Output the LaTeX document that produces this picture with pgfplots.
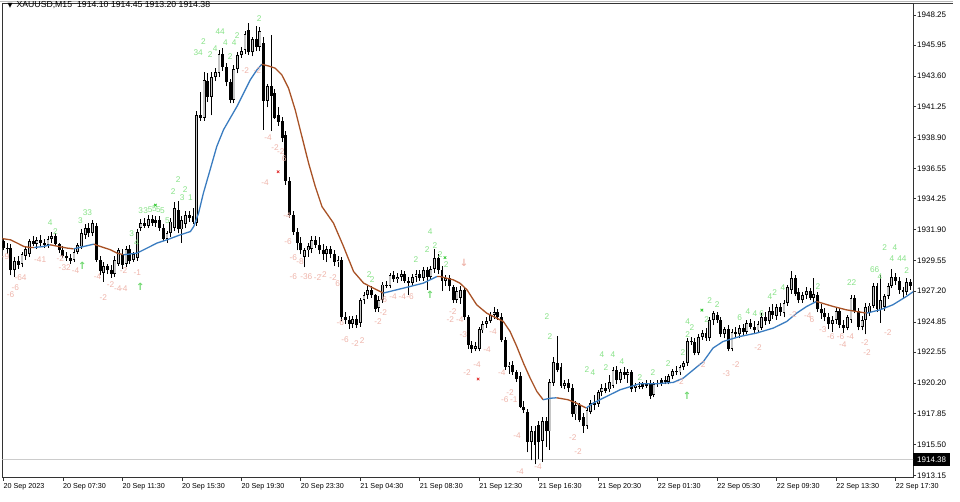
\documentclass[border=0pt]{standalone}
\usepackage{fontspec}
\setmainfont{Liberation Sans}
\newfontfamily\dejavu{DejaVu Sans}
\usepackage{pgfplots}
\usepackage{pgfplotstable}
\pgfplotsset{compat=1.18}
\definecolor{mabrown}{RGB}{168,82,38}
\definecolor{mablue}{RGB}{58,124,192}
\definecolor{lblgreen}{RGB}{135,226,135}
\definecolor{lblpink}{RGB}{238,180,170}
\definecolor{arrgreen}{RGB}{110,215,110}
\definecolor{xred}{RGB}{225,45,45}
\definecolor{xgreen}{RGB}{50,200,50}

\pgfplotstableread{
i o h l c
0 1931.0 1931.2 1930.3 1930.5
1 1930.5 1930.9 1930.0 1930.4
2 1930.5 1930.8 1928.4 1928.8
3 1928.8 1929.8 1928.3 1929.5
4 1929.5 1929.9 1928.9 1929.2
5 1929.3 1930.2 1929.0 1930.0
6 1929.9 1930.6 1929.6 1930.4
7 1930.0 1931.2 1929.8 1931.0
8 1931.0 1931.4 1930.6 1930.8
9 1930.8 1931.3 1930.4 1931.1
10 1931.1 1931.5 1930.6 1930.9
11 1930.9 1931.2 1930.5 1930.7
12 1930.7 1931.4 1930.5 1931.2
13 1931.2 1931.7 1930.9 1931.4
14 1931.4 1931.6 1930.6 1930.8
15 1930.8 1930.9 1930.1 1930.3
16 1930.3 1930.6 1929.7 1929.9
17 1929.9 1930.2 1929.5 1929.7
18 1929.7 1930.0 1929.3 1929.5
19 1929.6 1930.4 1929.4 1930.2
20 1930.2 1930.9 1930.0 1930.7
21 1930.6 1931.9 1930.4 1931.6
22 1931.5 1932.3 1931.2 1932.0
23 1932.0 1932.4 1931.3 1931.6
24 1931.6 1932.6 1931.4 1932.4
25 1932.2 1932.4 1929.4 1929.6
26 1929.6 1929.9 1928.4 1928.7
27 1928.6 1929.4 1927.9 1929.1
28 1929.1 1929.3 1928.5 1928.8
29 1928.8 1929.2 1928.2 1928.5
30 1928.5 1929.9 1928.3 1929.6
31 1929.3 1930.5 1929.1 1930.3
32 1930.0 1930.4 1928.9 1929.2
33 1929.3 1930.6 1929.0 1930.4
34 1930.4 1930.7 1929.3 1929.5
35 1929.6 1930.2 1929.4 1930.0
36 1929.7 1931.9 1929.5 1931.7
37 1932.0 1932.7 1931.8 1932.4
38 1932.4 1932.8 1932.0 1932.2
39 1932.2 1933.0 1932.0 1932.7
40 1932.7 1933.0 1932.2 1932.4
41 1932.4 1932.9 1932.1 1932.6
42 1932.6 1932.9 1931.8 1932.0
43 1932.0 1932.3 1931.0 1931.2
44 1931.2 1931.8 1930.9 1931.6
45 1931.6 1932.8 1931.3 1932.5
46 1932.0 1934.0 1931.8 1933.5
47 1933.4 1934.1 1931.6 1931.9
48 1931.9 1932.9 1930.9 1932.6
49 1932.3 1933.3 1932.0 1933.0
50 1933.0 1933.3 1932.5 1932.8
51 1932.9 1933.5 1932.3 1932.5
52 1932.4 1940.9 1932.2 1940.6
53 1940.6 1942.4 1940.2 1940.4
54 1940.4 1943.9 1940.2 1943.3
55 1943.2 1943.8 1941.6 1942.0
56 1942.0 1943.9 1940.6 1943.5
57 1943.5 1944.2 1943.2 1943.9
58 1943.8 1945.6 1943.5 1945.3
59 1945.3 1945.7 1944.0 1944.3
60 1944.3 1944.6 1942.8 1943.1
61 1943.1 1943.4 1941.5 1941.8
62 1941.8 1944.4 1941.5 1944.1
63 1944.1 1945.4 1943.8 1945.2
64 1945.2 1945.8 1945.0 1945.5
65 1945.6 1947.0 1945.3 1946.8
66 1947.1 1947.6 1945.2 1945.4
67 1945.4 1946.6 1945.1 1946.4
68 1946.4 1947.4 1945.5 1945.8
69 1945.8 1947.3 1945.5 1947.0
70 1946.1 1946.6 1939.5 1941.7
71 1941.7 1943.0 1941.2 1942.8
72 1942.8 1946.7 1939.4 1942.1
73 1942.3 1942.6 1940.3 1940.4
74 1940.6 1941.2 1939.8 1940.1
75 1940.2 1940.5 1938.6 1938.9
76 1939.1 1939.4 1935.3 1935.6
77 1935.6 1935.9 1932.8 1933.0
78 1933.0 1933.3 1931.5 1931.7
79 1931.7 1932.0 1930.3 1930.9
80 1930.9 1931.3 1930.0 1930.3
81 1929.8 1930.5 1929.0 1930.3
82 1930.3 1930.9 1929.8 1930.6
83 1930.4 1931.4 1930.1 1931.1
84 1931.1 1931.4 1930.5 1930.7
85 1930.7 1931.3 1930.0 1930.3
86 1930.3 1930.8 1929.6 1930.0
87 1930.0 1930.6 1929.4 1930.4
88 1930.4 1930.6 1929.7 1930.0
89 1930.0 1930.3 1929.1 1929.4
90 1929.4 1929.9 1929.0 1929.6
91 1929.6 1929.8 1924.9 1925.2
92 1925.2 1925.6 1924.7 1925.0
93 1925.0 1925.3 1924.3 1924.7
94 1924.7 1925.3 1924.4 1925.1
95 1925.1 1925.4 1924.4 1924.6
96 1924.8 1926.7 1924.5 1926.5
97 1926.5 1927.1 1926.2 1926.9
98 1926.9 1927.6 1926.6 1927.3
99 1927.3 1927.6 1926.7 1926.9
100 1926.9 1927.0 1925.6 1925.8
101 1925.9 1926.8 1925.6 1926.5
102 1926.5 1927.9 1926.3 1927.7
103 1927.7 1928.0 1927.4 1927.6
104 1927.6 1928.6 1927.4 1928.4
105 1928.4 1928.7 1927.9 1928.1
106 1928.1 1928.6 1927.8 1928.3
107 1928.3 1928.8 1928.0 1928.5
108 1928.5 1928.7 1927.8 1928.0
109 1928.0 1928.3 1926.9 1927.8
110 1927.8 1928.5 1927.6 1928.3
111 1928.3 1928.8 1927.9 1928.5
112 1928.5 1928.8 1928.0 1928.2
113 1928.2 1929.0 1928.0 1928.8
114 1928.8 1929.0 1927.3 1928.3
115 1928.3 1929.1 1928.1 1928.9
116 1928.9 1930.4 1928.6 1929.7
117 1929.7 1930.0 1928.5 1928.8
118 1928.8 1929.1 1927.2 1928.0
119 1928.0 1928.4 1927.6 1928.2
120 1928.2 1928.4 1927.2 1927.6
121 1927.5 1927.7 1926.3 1926.5
122 1926.5 1927.5 1926.3 1927.2
123 1926.7 1927.6 1926.2 1927.3
124 1927.3 1927.5 1925.0 1925.2
125 1925.2 1925.4 1922.8 1923.1
126 1923.1 1923.4 1922.5 1922.8
127 1922.8 1923.3 1922.6 1923.0
128 1922.8 1924.5 1922.6 1924.3
129 1924.2 1924.9 1924.0 1924.7
130 1924.7 1925.2 1924.4 1924.9
131 1924.9 1925.6 1924.8 1925.4
132 1925.4 1926.0 1925.1 1925.6
133 1925.6 1925.8 1925.0 1925.2
134 1925.2 1925.5 1923.3 1923.5
135 1923.5 1923.7 1921.2 1921.4
136 1921.4 1921.8 1920.9 1921.6
137 1921.6 1921.9 1920.8 1921.0
138 1921.0 1921.2 1920.3 1920.5
139 1920.7 1921.0 1918.3 1918.4
140 1918.4 1918.8 1917.9 1918.1
141 1918.0 1918.2 1914.9 1915.7
142 1915.7 1916.9 1914.3 1916.5
143 1916.5 1916.9 1914.0 1915.5
144 1917.0 1917.3 1914.4 1915.7
145 1915.8 1917.6 1914.2 1917.3
146 1917.3 1917.6 1915.3 1916.5
147 1916.5 1920.5 1915.1 1920.3
148 1920.2 1922.2 1920.0 1921.8
149 1921.7 1923.8 1921.0 1921.2
150 1921.4 1921.7 1919.8 1920.0
151 1920.0 1920.4 1919.7 1920.2
152 1920.2 1920.5 1919.5 1919.8
153 1919.8 1920.1 1917.6 1917.8
154 1917.8 1918.8 1917.4 1918.5
155 1918.5 1918.7 1917.2 1917.4
156 1917.6 1917.9 1916.4 1916.9
157 1916.9 1918.4 1916.7 1918.1
158 1918.0 1918.9 1917.8 1918.7
159 1918.7 1919.3 1918.1 1918.5
160 1918.6 1919.7 1918.4 1919.5
161 1919.5 1920.1 1919.2 1919.8
162 1919.8 1920.2 1919.4 1919.6
163 1919.7 1920.8 1919.5 1920.3
164 1920.0 1921.4 1919.8 1921.2
165 1921.2 1921.5 1920.1 1920.4
166 1920.4 1921.3 1920.2 1921.0
167 1921.0 1921.4 1920.5 1920.8
168 1920.8 1921.3 1920.2 1921.0
169 1921.0 1921.2 1919.5 1919.7
170 1919.8 1920.2 1919.5 1920.0
171 1920.0 1920.3 1919.7 1919.9
172 1919.9 1920.3 1919.7 1920.1
173 1920.1 1920.4 1919.8 1920.0
174 1920.2 1920.4 1919.0 1919.2
175 1919.3 1920.3 1919.1 1920.1
176 1920.1 1920.4 1919.9 1920.2
177 1920.2 1920.6 1920.0 1920.4
178 1920.4 1920.7 1920.1 1920.3
179 1920.3 1920.9 1920.1 1920.7
180 1920.7 1921.3 1920.5 1921.1
181 1921.1 1921.5 1920.8 1921.0
182 1921.0 1921.6 1920.8 1921.4
183 1921.4 1921.9 1921.2 1921.7
184 1921.7 1923.6 1921.5 1923.4
185 1923.4 1923.7 1923.1 1923.3
186 1923.3 1923.6 1922.3 1922.5
187 1922.5 1923.9 1922.3 1923.7
188 1923.7 1924.2 1923.5 1924.0
189 1924.0 1924.4 1923.4 1923.6
190 1923.6 1925.2 1923.4 1925.0
191 1925.0 1925.7 1924.6 1925.5
192 1925.4 1925.6 1924.8 1925.0
193 1925.0 1925.2 1923.7 1923.9
194 1923.9 1924.5 1923.6 1924.3
195 1924.3 1924.6 1922.6 1922.8
196 1922.8 1924.3 1922.6 1924.1
197 1924.1 1924.5 1923.6 1923.9
198 1923.9 1924.6 1923.6 1924.4
199 1924.4 1924.7 1923.8 1924.1
200 1924.1 1925.0 1923.9 1924.8
201 1924.8 1925.1 1924.3 1924.5
202 1924.5 1924.9 1923.9 1924.2
203 1924.2 1924.9 1924.0 1924.7
204 1924.4 1925.5 1924.2 1925.2
205 1925.2 1925.6 1924.6 1924.9
206 1924.9 1926.0 1924.7 1925.7
207 1925.7 1926.2 1925.1 1925.4
208 1925.3 1926.2 1925.0 1926.0
209 1926.0 1926.3 1925.3 1925.6
210 1925.5 1926.5 1925.2 1926.3
211 1926.3 1927.7 1926.1 1927.5
212 1927.3 1928.7 1927.0 1928.2
213 1928.2 1928.4 1926.8 1927.0
214 1927.1 1927.4 1926.3 1926.5
215 1926.5 1927.1 1926.3 1926.9
216 1926.9 1927.5 1926.6 1927.2
217 1927.2 1927.4 1926.5 1926.7
218 1926.7 1928.2 1926.4 1927.0
219 1926.9 1927.1 1925.6 1925.8
220 1925.8 1926.2 1925.1 1925.5
221 1925.5 1925.9 1924.9 1925.2
222 1925.2 1925.5 1924.3 1924.7
223 1924.7 1925.3 1924.1 1925.0
224 1925.0 1926.0 1924.7 1925.7
225 1925.7 1925.9 1924.4 1924.6
226 1924.6 1925.0 1924.0 1924.4
227 1924.4 1925.4 1924.2 1925.2
228 1925.0 1926.9 1924.8 1926.7
229 1926.7 1926.9 1925.5 1925.7
230 1925.7 1925.9 1924.2 1924.5
231 1924.5 1925.3 1924.2 1925.0
232 1925.0 1926.3 1923.9 1926.0
233 1925.5 1926.3 1925.3 1926.1
234 1926.1 1927.8 1925.9 1927.6
235 1927.6 1927.8 1925.6 1925.8
236 1925.8 1928.4 1924.8 1926.5
237 1926.0 1927.0 1925.7 1926.8
238 1926.8 1927.8 1926.6 1927.6
239 1927.6 1928.9 1927.4 1928.3
240 1928.3 1928.6 1927.7 1928.0
241 1928.0 1928.3 1927.0 1927.3
242 1927.3 1927.5 1926.6 1927.1
243 1927.1 1928.2 1926.9 1927.9
244 1927.9 1928.1 1927.3 1927.6
}\candles

\pgfplotstableread{
x y t
68.8 1948.0 2
58.3 1946.95 44
62.9 1946.7 2
53.8 1946.2 2
59.7 1946.1 4
62.1 1946.1 4
52.4 1945.4 34
55.6 1945.2 2
57.0 1945.7 4
61.0 1945.05 2
47.0 1935.7 2
45.7 1934.8 2
48.9 1934.9 2
48.1 1934.3 3
50.3 1934.3 1
36.9 1933.3 3
38.3 1933.35 3
39.5 1933.4 5
40.6 1933.5 5
41.7 1933.4 5
42.8 1933.3 5
44.1 1932.6 5
34.5 1931.6 3
35.8 1930.9 4
20.7 1932.6 3
22.6 1933.2 33
12.6 1932.4 4
14.0 1931.7 2
114.8 1931.7 4
116.1 1930.7 2
114.0 1930.35 2
111.0 1929.6 2
98.4 1928.45 2
99.2 1928.05 2
117.5 1930.0 2
119.1 1929.2 2
146.2 1925.25 2
147.0 1923.7 2
161.0 1922.35 4
164.0 1922.35 4
166.4 1921.8 4
162.1 1921.4 2
157.0 1921.2 2
158.6 1920.95 4
171.2 1920.6 2
174.7 1920.95 2
178.8 1921.7 2
182.8 1922.5 2
184.1 1923.9 2
184.1 1924.85 4
185.2 1924.4 2
189.2 1925.0 2
190.0 1926.5 2
192.0 1926.15 2
198.1 1925.15 6
200.3 1925.6 4
202.2 1925.5 4
204.0 1925.45 6
206.2 1926.75 4
207.5 1927.05 2
209.7 1927.45 4
219.1 1927.55 2
228.2 1927.85 22
234.4 1928.8 66
235.8 1928.3 4
237.1 1930.55 2
239.8 1930.55 4
239.0 1929.65 4
241.7 1929.7 44
243.0 1928.8 2
}\greenlbl

\pgfplotstableread{
x y t
65.1 1944.0 -2
68.3 1944.0 -2
71.2 1938.9 -4
73.1 1938.1 -2
74.6 1937.8 -2
75.5 1937.3 6
70.4 1935.45 -4
76.3 1932.95 -4
76.6 1930.95 -6
78.0 1929.75 -6
79.8 1929.45 -8
78.0 1928.3 -6
81.5 1928.3 -36
84.5 1928.25 -2
86.0 1928.45 -2
88.7 1928.2 -2
89.9 1927.8 6
90.6 1924.8 -6
91.9 1923.5 -6
94.6 1923.2 -2
96.5 1923.4 2
102.2 1926.55 -6
104.8 1926.8 -4
107.3 1926.75 -4
109.4 1926.8 -6
102.2 1925.55 -2
100.8 1924.85 -2
120.9 1925.6 -2
120.2 1925.0 -2
122.8 1925.0 -4
123.7 1923.85 -3
131.7 1924.1 -4
130.1 1922.75 -4
127.4 1921.6 -4
124.7 1920.95 -2
134.1 1920.95 -4
136.3 1919.5 -2
134.9 1918.9 -6
137.3 1918.9 -1
138.2 1916.2 -4
139.0 1913.45 -4
143.8 1913.85 -4
153.2 1916.0 -2
154.6 1914.95 -2
182.0 1920.3 -2
187.9 1921.6 -2
197.0 1921.6 -2
194.5 1920.9 -3
203.0 1922.9 -2
212.4 1925.4 -2
216.4 1925.3 -4
217.5 1925.0 6
220.4 1924.25 -3
222.6 1923.75 -6
225.2 1923.75 -6
227.8 1923.75 -4
225.8 1923.1 -4
231.7 1923.25 -2
232.3 1922.55 -2
237.9 1924.0 -2
0.6 1929.8 -9
4.6 1928.2 -64
3.2 1927.5 -6
1.9 1926.9 -6
9.9 1929.6 -41
15.3 1929.65 -2
16.5 1929.0 -32
19.4 1928.75 -4
25.3 1928.3 -4
28.8 1927.7 -2
30.8 1927.4 -4
32.4 1927.4 -4
26.9 1926.7 -2
32.3 1928.8 -2
36.0 1928.6 -1
}\pinklbl

\begin{document}
\begin{tikzpicture}[x=1pt,y=1pt]
\path (0,0) rectangle (960,502);
\draw[gray!55, line width=0.8pt] (0,500.8) -- (953,500.8);
\draw[black!75, line width=0.9pt] (913,498.6) -- (953,498.6);
\begin{axis}[
  at={(2pt,24pt)}, anchor=south west, scale only axis,
  width=911pt, height=475pt,
  xmin=-0.27, xmax=244.7, ymin=1912.97, ymax=1949.16,
  axis line style={black!80, line width=0.9pt},
  tick align=outside, major tick length=3pt,
  tick style={black!80, line width=0.6pt},
  xtick={0,16,...,240},
  xticklabels={20 Sep 2023,20 Sep 07:30,20 Sep 11:30,20 Sep 15:30,20 Sep 19:30,20 Sep 23:30,21 Sep 04:30,21 Sep 08:30,21 Sep 12:30,21 Sep 16:30,21 Sep 20:30,22 Sep 01:30,22 Sep 05:30,22 Sep 09:30,22 Sep 13:30,22 Sep 17:30},
  xtick pos=bottom, ytick pos=right, yticklabel pos=right,
  xticklabel style={anchor=north west, inner sep=0pt, yshift=-2pt, font=\fontsize{7.2}{8}\selectfont},
  ytick={1913.15,1915.50,1917.85,1920.20,1922.55,1924.85,1927.20,1929.55,1931.90,1934.25,1936.55,1938.90,1941.25,1943.60,1945.95,1948.25},
  yticklabels={1913.15,1915.50,1917.85,1920.20,1922.55,1924.85,1927.20,1929.55,1931.90,1934.25,1936.55,1938.90,1941.25,1943.60,1945.95,1948.25},
  yticklabel style={anchor=west, inner sep=0pt, xshift=1pt, font=\fontsize{8}{9}\selectfont},
  extra y ticks={1914.38}, extra y tick labels={1914.38},
  extra y tick style={major tick length=0pt, yticklabel style={fill=black, text=white, inner xsep=4pt, inner ysep=3.5pt, text height=6pt, text depth=0pt, xshift=-1pt}},
  title={{\dejavu\fontsize{6.5}{6.5}\selectfont ▼}\hspace{4pt}XAUUSD,M15\hspace{5pt}1914.10 1914.45 1913.20 1914.38},
  title style={at={(0,1)}, anchor=north west, xshift=5pt, yshift=-4.5pt, inner sep=0pt, font=\fontsize{8.7}{9}\selectfont},
]
\addplot[gray!40, line width=0.7pt, forget plot] coordinates {(-1,1914.38) (246,1914.38)};

\addplot[draw=none, mark=none, nodes near coords, point meta=explicit symbolic,
  nodes near coords style={anchor=center, inner sep=0pt, text=lblpink, font=\fontsize{8.3}{8}\selectfont}]
  table[x=x, y=y, meta=t] {\pinklbl};
\addplot[draw=none, mark=none, nodes near coords, point meta=explicit symbolic,
  nodes near coords style={anchor=center, inner sep=0pt, text=lblgreen, font=\fontsize{8.3}{8}\selectfont}]
  table[x=x, y=y, meta=t] {\greenlbl};

% wicks
\addplot[draw=none, mark=none, error bars/.cd, y dir=plus, y explicit, error mark=none,
  error bar style={draw=black, line width=0.9pt}]
  table[x=i, y=l, y error plus expr={\thisrow{h}-\thisrow{l}}] {\candles};
% bodies
\addplot[draw=none, mark=none, error bars/.cd, y dir=plus, y explicit, error mark=none,
  error bar style={draw=black, line width=2.9pt}]
  table[x=i, y expr={min(\thisrow{o},\thisrow{c})}, y error plus expr={max(abs(\thisrow{c}-\thisrow{o}),0.08)}] {\candles};
% hollow part of bull bodies
\addplot[draw=none, mark=none, restrict expr to domain={\thisrow{c}-\thisrow{o}}{0.2:100},
  error bars/.cd, y dir=plus, y explicit, error mark=none,
  error bar style={draw=gray!45, line width=1.3pt}]
  table[x=i, y expr={\thisrow{o}+0.07}, y error plus expr={\thisrow{c}-\thisrow{o}-0.14}] {\candles};

% moving average
\addplot[mabrown, line width=1.3pt] coordinates {(-0.3,1931.2) (1.9,1931.11) (3.7,1930.86) (5.5,1930.60) (7.3,1930.52) (8.2,1930.52)};
\addplot[mablue, line width=1.3pt] coordinates {(8.2,1930.52) (10.8,1930.60) (12.6,1930.73)};
\addplot[mabrown, line width=1.3pt] coordinates {(12.6,1930.73) (14.9,1930.60) (17.1,1930.48) (18.9,1930.42)};
\addplot[mablue, line width=1.3pt] coordinates {(18.9,1930.42) (21.6,1930.60) (24.3,1930.78)};
\addplot[mabrown, line width=1.3pt] coordinates {(24.3,1930.78) (26.1,1930.60) (28.8,1930.35) (30.6,1930.09) (32.3,1929.97)};
\addplot[mablue, line width=1.3pt] coordinates {(32.3,1929.97) (35.9,1930.09) (38.6,1930.47) (41.3,1930.86) (44.0,1931.11) (47.6,1931.49) (50.3,1931.74) (51.2,1932.12) (52.5,1933.14) (53.8,1934.67) (55.6,1936.44) (57.4,1938.22) (59.2,1939.49) (61.0,1940.38) (62.8,1941.26) (64.6,1942.28) (66.4,1943.30) (68.2,1944.06) (69.5,1944.49)};
\addplot[mabrown, line width=1.3pt] coordinates {(69.5,1944.49) (71.3,1944.36) (73.1,1944.19) (74.9,1943.68) (76.7,1942.67) (78.5,1941.01) (80.3,1938.98) (82.1,1936.95) (83.9,1935.17) (85.7,1933.64) (88.8,1932.38) (91.5,1930.60) (94.2,1928.69) (96.9,1927.81) (99.5,1927.43) (102.2,1927.05)};
\addplot[mablue, line width=1.3pt] coordinates {(102.2,1927.05) (105.8,1927.30) (109.4,1927.55) (113.0,1927.81) (116.6,1928.31)};
\addplot[mabrown, line width=1.3pt] coordinates {(116.6,1928.31) (117.5,1928.31) (121.0,1928.06) (122.8,1927.81) (124.7,1927.30) (127.3,1926.16) (130.0,1925.52) (132.7,1925.14) (134.5,1924.88) (136.3,1924.12) (138.1,1922.98) (139.9,1921.71) (141.7,1920.57) (143.5,1919.55) (145.2,1918.92)};
\addplot[mablue, line width=1.3pt] coordinates {(145.2,1918.92) (147.0,1919.03) (148.8,1919.07)};
\addplot[mabrown, line width=1.3pt] coordinates {(148.8,1919.07) (151.9,1918.92) (154.1,1918.67) (155.9,1918.41) (156.8,1918.29)};
\addplot[mablue, line width=1.3pt] coordinates {(156.8,1918.29) (158.7,1918.67) (161.4,1919.05) (165.9,1919.68) (171.2,1920.14) (175.7,1920.14) (180.2,1920.24) (182.9,1920.57) (185.6,1921.20) (188.3,1921.83) (190.9,1922.86) (193.6,1923.36) (198.1,1923.74) (202.6,1924.00) (207.1,1924.38) (210.7,1924.88) (213.4,1925.52) (216.1,1926.03) (218.7,1926.41)};
\addplot[mabrown, line width=1.3pt] coordinates {(218.7,1926.41) (223.2,1926.03) (226.8,1925.77) (232.2,1925.52)};
\addplot[mablue, line width=1.3pt] coordinates {(232.2,1925.52) (235.8,1925.77) (239.3,1926.16) (242.9,1926.79) (245,1927.2)};

% signals
\addplot[draw=none, mark=none, nodes near coords={↑},
  nodes near coords style={anchor=center, inner sep=0pt, text=arrgreen, font=\dejavu\bfseries\fontsize{10}{10}\selectfont}]
  coordinates {(21.2,1929.1) (36.8,1927.5) (114.8,1926.9) (183.9,1919.2)};
\addplot[draw=none, mark=none, nodes near coords={↓},
  nodes near coords style={anchor=center, inner sep=0pt, text=lblpink, font=\dejavu\bfseries\fontsize{10}{10}\selectfont}]
  coordinates {(123.9,1929.35)};
\addplot[only marks, mark=x, mark size=1.8pt, xred, line width=0.8pt] coordinates {(73.9,1936.3) (127.7,1920.5)};
\addplot[only marks, mark=x, mark size=1.8pt, xgreen, line width=0.8pt] coordinates {(40.9,1933.75) (118.8,1929.75) (187.9,1925.75)};
\end{axis}
\end{tikzpicture}
\end{document}
